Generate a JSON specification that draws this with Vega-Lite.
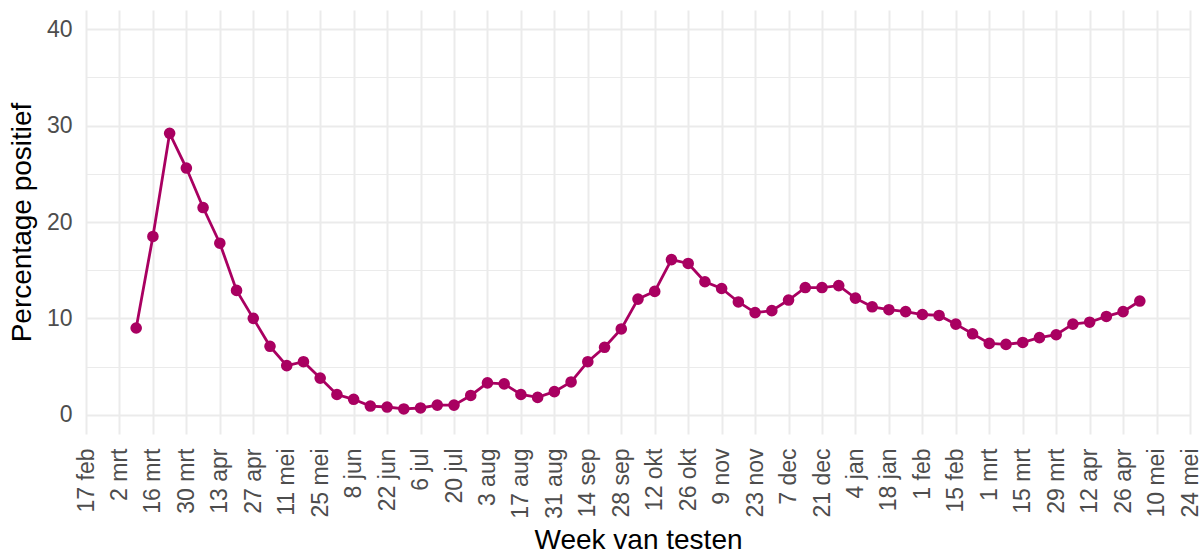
{
  "$schema": "https://vega.github.io/schema/vega-lite/v6.json",
  "width": 1104,
  "height": 424,
  "autosize": {"type": "none"},
  "padding": {"left": 86, "top": 10, "right": 14, "bottom": 120},
  "background": "white",
  "config": {
    "view": {"stroke": null},
    "font": "Liberation Sans",
    "axis": {
      "labelFont": "Liberation Sans",
      "titleFont": "Liberation Sans",
      "labelColor": "#4D4D4D",
      "labelFontSize": 23,
      "titleFontSize": 28,
      "titleFontWeight": "normal",
      "titleColor": "#000000",
      "domain": false,
      "ticks": false,
      "tickSize": 0,
      "gridColor": "#EBEBEB",
      "gridWidth": 2
    }
  },
  "data": {
    "values": [
      {"week": "2020-03-09T00:00:00", "pct": 9.0},
      {"week": "2020-03-16T00:00:00", "pct": 18.5},
      {"week": "2020-03-23T00:00:00", "pct": 29.2},
      {"week": "2020-03-30T00:00:00", "pct": 25.6},
      {"week": "2020-04-06T00:00:00", "pct": 21.5},
      {"week": "2020-04-13T00:00:00", "pct": 17.8},
      {"week": "2020-04-20T00:00:00", "pct": 12.9},
      {"week": "2020-04-27T00:00:00", "pct": 10.0},
      {"week": "2020-05-04T00:00:00", "pct": 7.1},
      {"week": "2020-05-11T00:00:00", "pct": 5.1},
      {"week": "2020-05-18T00:00:00", "pct": 5.5},
      {"week": "2020-05-25T00:00:00", "pct": 3.8},
      {"week": "2020-06-01T00:00:00", "pct": 2.1},
      {"week": "2020-06-08T00:00:00", "pct": 1.6},
      {"week": "2020-06-15T00:00:00", "pct": 0.9},
      {"week": "2020-06-22T00:00:00", "pct": 0.8},
      {"week": "2020-06-29T00:00:00", "pct": 0.6},
      {"week": "2020-07-06T00:00:00", "pct": 0.7},
      {"week": "2020-07-13T00:00:00", "pct": 1.0},
      {"week": "2020-07-20T00:00:00", "pct": 1.0},
      {"week": "2020-07-27T00:00:00", "pct": 2.0},
      {"week": "2020-08-03T00:00:00", "pct": 3.3},
      {"week": "2020-08-10T00:00:00", "pct": 3.2},
      {"week": "2020-08-17T00:00:00", "pct": 2.1},
      {"week": "2020-08-24T00:00:00", "pct": 1.8},
      {"week": "2020-08-31T00:00:00", "pct": 2.4},
      {"week": "2020-09-07T00:00:00", "pct": 3.4},
      {"week": "2020-09-14T00:00:00", "pct": 5.5},
      {"week": "2020-09-21T00:00:00", "pct": 7.0},
      {"week": "2020-09-28T00:00:00", "pct": 8.9},
      {"week": "2020-10-05T00:00:00", "pct": 12.0},
      {"week": "2020-10-12T00:00:00", "pct": 12.8},
      {"week": "2020-10-19T00:00:00", "pct": 16.1},
      {"week": "2020-10-26T00:00:00", "pct": 15.7},
      {"week": "2020-11-02T00:00:00", "pct": 13.8},
      {"week": "2020-11-09T00:00:00", "pct": 13.1},
      {"week": "2020-11-16T00:00:00", "pct": 11.7},
      {"week": "2020-11-23T00:00:00", "pct": 10.6},
      {"week": "2020-11-30T00:00:00", "pct": 10.8},
      {"week": "2020-12-07T00:00:00", "pct": 11.9},
      {"week": "2020-12-14T00:00:00", "pct": 13.2},
      {"week": "2020-12-21T00:00:00", "pct": 13.2},
      {"week": "2020-12-28T00:00:00", "pct": 13.4},
      {"week": "2021-01-04T00:00:00", "pct": 12.1},
      {"week": "2021-01-11T00:00:00", "pct": 11.2},
      {"week": "2021-01-18T00:00:00", "pct": 10.9},
      {"week": "2021-01-25T00:00:00", "pct": 10.7},
      {"week": "2021-02-01T00:00:00", "pct": 10.4},
      {"week": "2021-02-08T00:00:00", "pct": 10.3},
      {"week": "2021-02-15T00:00:00", "pct": 9.4},
      {"week": "2021-02-22T00:00:00", "pct": 8.4},
      {"week": "2021-03-01T00:00:00", "pct": 7.4},
      {"week": "2021-03-08T00:00:00", "pct": 7.3},
      {"week": "2021-03-15T00:00:00", "pct": 7.5},
      {"week": "2021-03-22T00:00:00", "pct": 8.0},
      {"week": "2021-03-29T00:00:00", "pct": 8.3},
      {"week": "2021-04-05T00:00:00", "pct": 9.4},
      {"week": "2021-04-12T00:00:00", "pct": 9.6},
      {"week": "2021-04-19T00:00:00", "pct": 10.2},
      {"week": "2021-04-26T00:00:00", "pct": 10.7},
      {"week": "2021-05-03T00:00:00", "pct": 11.8}
    ]
  },
  "encoding": {
    "x": {
      "field": "week",
      "type": "temporal",
      "scale": {
        "domain": [
          {"year": 2020, "month": 2, "date": 17},
          {"year": 2021, "month": 5, "date": 24}
        ],
        "nice": false
      },
      "axis": {
        "title": "Week van testen",
        "values": [
          {"year": 2020, "month": 2, "date": 17},
          {"year": 2020, "month": 3, "date": 2},
          {"year": 2020, "month": 3, "date": 16},
          {"year": 2020, "month": 3, "date": 30},
          {"year": 2020, "month": 4, "date": 13},
          {"year": 2020, "month": 4, "date": 27},
          {"year": 2020, "month": 5, "date": 11},
          {"year": 2020, "month": 5, "date": 25},
          {"year": 2020, "month": 6, "date": 8},
          {"year": 2020, "month": 6, "date": 22},
          {"year": 2020, "month": 7, "date": 6},
          {"year": 2020, "month": 7, "date": 20},
          {"year": 2020, "month": 8, "date": 3},
          {"year": 2020, "month": 8, "date": 17},
          {"year": 2020, "month": 8, "date": 31},
          {"year": 2020, "month": 9, "date": 14},
          {"year": 2020, "month": 9, "date": 28},
          {"year": 2020, "month": 10, "date": 12},
          {"year": 2020, "month": 10, "date": 26},
          {"year": 2020, "month": 11, "date": 9},
          {"year": 2020, "month": 11, "date": 23},
          {"year": 2020, "month": 12, "date": 7},
          {"year": 2020, "month": 12, "date": 21},
          {"year": 2021, "month": 1, "date": 4},
          {"year": 2021, "month": 1, "date": 18},
          {"year": 2021, "month": 2, "date": 1},
          {"year": 2021, "month": 2, "date": 15},
          {"year": 2021, "month": 3, "date": 1},
          {"year": 2021, "month": 3, "date": 15},
          {"year": 2021, "month": 3, "date": 29},
          {"year": 2021, "month": 4, "date": 12},
          {"year": 2021, "month": 4, "date": 26},
          {"year": 2021, "month": 5, "date": 10},
          {"year": 2021, "month": 5, "date": 24}
        ],
        "labelExpr": "date(datum.value) + ' ' + ['jan','feb','mrt','apr','mei','jun','jul','aug','sep','okt','nov','dec'][month(datum.value)]",
        "labelAngle": 270,
        "labelAlign": "right",
        "labelBaseline": "middle",
        "labelPadding": 14,
        "labelOverlap": false,
        "labelFlush": false,
        "grid": true,
        "titlePadding": 8
      }
    },
    "y": {
      "field": "pct",
      "type": "quantitative",
      "scale": {"domain": [-2, 42], "nice": false, "zero": false}
    }
  },
  "layer": [
    {
      "mark": {"type": "line", "color": "#A90061", "strokeWidth": 2.8},
      "encoding": {
        "y": {
          "field": "pct",
          "type": "quantitative",
          "axis": {
            "title": "Percentage positief",
            "values": [0, 10, 20, 30, 40],
            "grid": true,
            "labelPadding": 14,
            "titlePadding": 10
          }
        }
      }
    },
    {
      "mark": {"type": "point", "filled": true, "color": "#A90061", "size": 135, "opacity": 1},
      "encoding": {
        "y": {
          "field": "pct",
          "type": "quantitative",
          "axis": {
            "orient": "left",
            "title": null,
            "values": [5, 15, 25, 35],
            "labels": false,
            "grid": true,
            "gridWidth": 1
          }
        }
      }
    }
  ],
  "resolve": {"axis": {"y": "independent"}}
}
